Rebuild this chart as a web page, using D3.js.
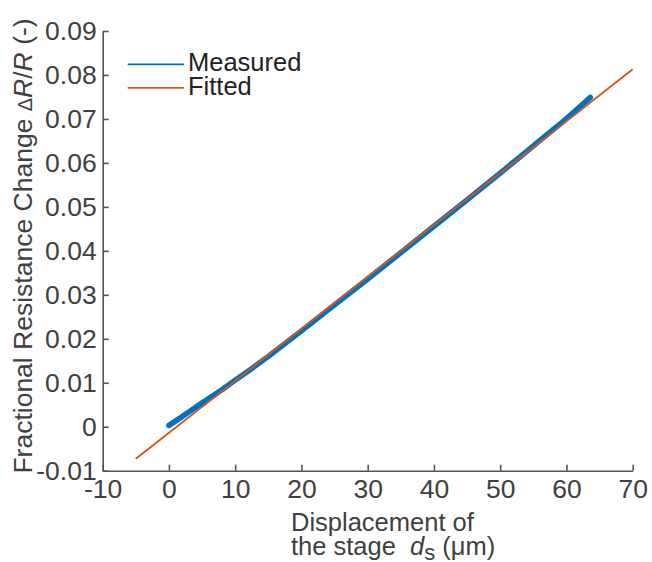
<!DOCTYPE html>
<html>
<head>
<meta charset="utf-8">
<script src="https://cdn.jsdelivr.net/npm/d3@7"></script>
<style>
  html, body { margin: 0; padding: 0; background: #fff; }
  svg { display: block; font-family: "Liberation Sans", Arial, Helvetica, sans-serif; }
</style>
</head>
<body>
<svg id="chart" width="652" height="562"></svg>
<script>
// ---- data ----
const measuredX = [0, 2, 4, 6, 8, 10, 12, 15, 20, 25, 30, 35, 40, 45, 50, 53, 56, 59, 61, 63.6];
const measuredY = [0.0003, 0.0023, 0.0044, 0.0064, 0.0084, 0.0106, 0.0127, 0.0160, 0.0218, 0.0277,
                   0.0336, 0.0396, 0.0456, 0.0516, 0.0577, 0.0614, 0.0651, 0.0688, 0.0714, 0.0749];
const fittedX = [-5, 70];
const fittedY = [-0.0073, 0.0813];
const xTicks = [-10, 0, 10, 20, 30, 40, 50, 60, 70];
const yTicks = [-0.01, 0, 0.01, 0.02, 0.03, 0.04, 0.05, 0.06, 0.07, 0.08, 0.09];
const seriesNames = ["Measured", "Fitted"];
const seriesColors = ["#0072BD", "#D95319"];

// ---- layout ----
const svg = d3.select("#chart");
const x = d3.scaleLinear().domain([-10, 70]).range([102.7, 632.7]);
const y = d3.scaleLinear().domain([-0.01, 0.09]).range([470.7, 31]);
const axisColor = "#555555";
const textColor = "#404040";

// axes (ticks pointing inward), hyphen minus as in the original
const xFmt = d => String(d);
const yFmt = d => d === 0 ? "0" : d.toFixed(2);
const xAxis = d3.axisBottom(x).tickValues(xTicks).tickSizeInner(-6).tickSizeOuter(0)
  .tickPadding(12).tickFormat(xFmt);
const gx = svg.append("g").attr("transform", `translate(0,${y(-0.01)})`).call(xAxis);

const yAxis = d3.axisLeft(y).tickValues(yTicks).tickSizeInner(-6).tickSizeOuter(0)
  .tickPadding(12).tickFormat(yFmt);
const gy = svg.append("g").attr("transform", `translate(${x(-10)},0)`).call(yAxis);

[gx, gy].forEach(g => {
  g.select(".domain").attr("stroke", axisColor).attr("stroke-width", 1.6);
  g.selectAll(".tick line").attr("stroke", axisColor).attr("stroke-width", 1.6);
  g.selectAll(".tick text").attr("fill", textColor).attr("font-size", 26.5)
    .attr("font-family", '"Liberation Sans", Arial, sans-serif');
});
gy.selectAll(".tick text").attr("x", -6);
gx.selectAll(".tick text").attr("y", 8);

// lines
const line = d3.line().x(d => x(d[0])).y(d => y(d[1]));
const measured = measuredX.map((v, i) => [v, measuredY[i]]);
const fitted = fittedX.map((v, i) => [v, fittedY[i]]);

svg.append("path").datum(measured).attr("d", line)
  .attr("fill", "none").attr("stroke", seriesColors[0]).attr("stroke-width", 5.5)
  .attr("stroke-linecap", "round").attr("stroke-linejoin", "round");
svg.append("path").datum(fitted).attr("d", line)
  .attr("fill", "none").attr("stroke", seriesColors[1]).attr("stroke-width", 1.8);

// legend
const legend = svg.append("g");
seriesNames.forEach((name, i) => {
  const ly = 64.3 + i * 23.5;
  legend.append("line").attr("x1", 127.7).attr("x2", 184).attr("y1", ly).attr("y2", ly)
    .attr("stroke", seriesColors[i]).attr("stroke-width", 1.8);
  legend.append("text").attr("x", 188).attr("y", ly + 7).attr("font-size", 25.5)
    .attr("fill", "#222").text(name);
});

// y-axis label
const yl = svg.append("text").attr("transform", "translate(32,246) rotate(-90)")
  .attr("text-anchor", "middle").attr("font-size", 26.5).attr("fill", textColor);
yl.append("tspan").text("Fractional Resistance Change ");
yl.append("tspan").attr("font-size", 20).text("\u0394");
yl.append("tspan").attr("font-style", "italic").text("R");
yl.append("tspan").text("/");
yl.append("tspan").attr("font-style", "italic").text("R");
yl.append("tspan").text(" (-)");

// x-axis label (two lines)
const xl = svg.append("text").attr("font-size", 25.5).attr("fill", textColor);
xl.append("tspan").attr("x", 291).attr("y", 531).text("Displacement of");
xl.append("tspan").attr("x", 291).attr("y", 555).text("the stage\u00A0\u00A0");
xl.append("tspan").attr("font-style", "italic").text("d");
xl.append("tspan").attr("dy", 5).attr("font-size", 22).text("s");
xl.append("tspan").attr("dy", -5).text("\u00A0(\u03BCm)");
</script>
</body>
</html>
